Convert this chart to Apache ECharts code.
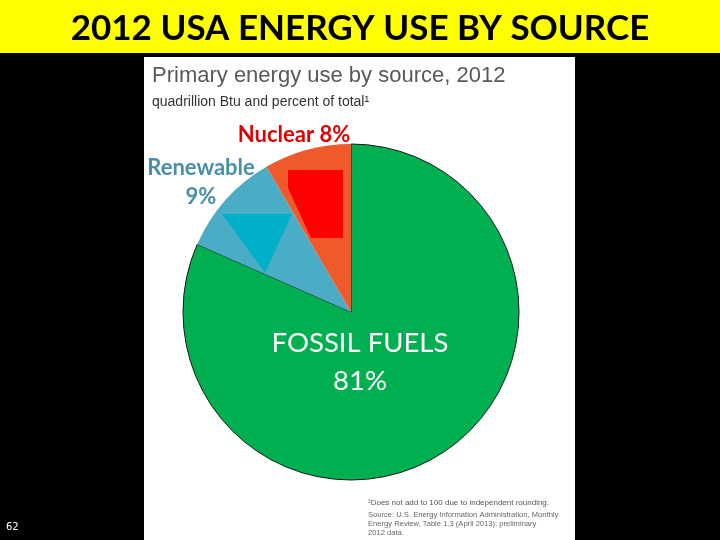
<!DOCTYPE html>
<html><head><meta charset="utf-8">
<style>html,body{margin:0;padding:0;background:#000;}#c{width:720px;height:540px;}</style>
<script src="https://cdn.jsdelivr.net/npm/echarts@6/dist/echarts.min.js"></script>
</head><body><div id="c"></div>
<script>
const categories = ['Fossil fuels', 'Renewable', 'Nuclear'];
const values = [81.6, 10.0, 8.4];
const percentLabels = ['81%', '9%', '8%'];
const colors = ['#00B050', '#4BACC6', '#EE5A2C'];

const chart = echarts.init(document.getElementById('c'));
const F = 'Lato, "Open Sans", sans-serif';
const data = categories.map((c, i) => ({
  name: c, value: values[i],
  itemStyle: i === 0 ? {color: colors[i], borderColor: '#1a1a1a', borderWidth: 1} : {color: colors[i], borderWidth: 0}
}));
chart.setOption({
  backgroundColor: '#000',
  animation: false,
  graphic: [
    {type: 'rect', shape: {x: 0, y: 0, width: 720, height: 53}, style: {fill: '#FFFF00'}, z: 0},
    {type: 'text', x: 360, y: 29, style: {text: '2012 USA ENERGY USE BY SOURCE', fill: '#000', font: 'bold 35px ' + F, textAlign: 'center', textVerticalAlign: 'middle'}, z: 1},
    {type: 'rect', shape: {x: 144, y: 57, width: 431, height: 483}, style: {fill: '#fff'}, z: -1},
    {type: 'text', x: 152, y: 76, style: {text: 'Primary energy use by source, 2012', fill: '#595959', font: '22px "Liberation Sans", Arial, sans-serif', textVerticalAlign: 'middle'}, z: 1},
    {type: 'text', x: 152, y: 102, style: {text: 'quadrillion Btu and percent of total\u00B9', fill: '#333', font: '14px "Liberation Sans", Arial, sans-serif', textVerticalAlign: 'middle'}, z: 1},
    {type: 'polygon', shape: {points: [[288, 170], [343, 170], [343, 238], [311, 238], [288, 188]]}, style: {fill: '#FF0000'}, z: 10},
    {type: 'polygon', shape: {points: [[222, 214], [292, 214], [265, 273]]}, style: {fill: '#00B0C8'}, z: 10},
    {type: 'text', x: 294, y: 135, style: {text: 'Nuclear ' + percentLabels[2], fill: '#E00000', font: 'bold 22px ' + F, textAlign: 'center', textVerticalAlign: 'middle'}, z: 11},
    {type: 'text', x: 201, y: 168, style: {text: 'Renewable', fill: '#4A8FA8', font: 'bold 22px ' + F, textAlign: 'center', textVerticalAlign: 'middle'}, z: 11},
    {type: 'text', x: 201, y: 197, style: {text: percentLabels[1], fill: '#4A8FA8', font: 'bold 22px ' + F, textAlign: 'center', textVerticalAlign: 'middle'}, z: 11},
    {type: 'text', x: 360, y: 343, style: {text: 'FOSSIL FUELS', fill: '#fff', font: '27.5px ' + F, textAlign: 'center', textVerticalAlign: 'middle'}, z: 11},
    {type: 'text', x: 360, y: 381, style: {text: percentLabels[0], fill: '#fff', font: '27.5px ' + F, textAlign: 'center', textVerticalAlign: 'middle'}, z: 11},
    {type: 'text', x: 368, y: 503, style: {text: '\u00B9Does not add to 100 due to independent rounding.', fill: '#555', font: '8px "Liberation Sans", Arial, sans-serif', textVerticalAlign: 'middle'}, z: 1},
    {type: 'text', x: 368, y: 515, style: {text: 'Source: U.S. Energy Information Administration, Monthly', fill: '#666', font: '7.6px "Liberation Sans", Arial, sans-serif', textVerticalAlign: 'middle'}, z: 1},
    {type: 'text', x: 368, y: 524, style: {text: 'Energy Review, Table 1.3 (April 2013); preliminary', fill: '#666', font: '7.6px "Liberation Sans", Arial, sans-serif', textVerticalAlign: 'middle'}, z: 1},
    {type: 'text', x: 368, y: 533, style: {text: '2012 data.', fill: '#666', font: '7.6px "Liberation Sans", Arial, sans-serif', textVerticalAlign: 'middle'}, z: 1},
    {type: 'text', x: 6, y: 527, style: {text: '62', fill: '#fff', font: '10px "DejaVu Sans", sans-serif', textVerticalAlign: 'middle'}, z: 1}
  ],
  series: [{
    type: 'pie', center: [351, 312], radius: 168, startAngle: 90, clockwise: true,
    label: {show: false}, labelLine: {show: false}, silent: true,
    emphasis: {disabled: true},
    data: data, z: 5
  }]
});
</script></body></html>
